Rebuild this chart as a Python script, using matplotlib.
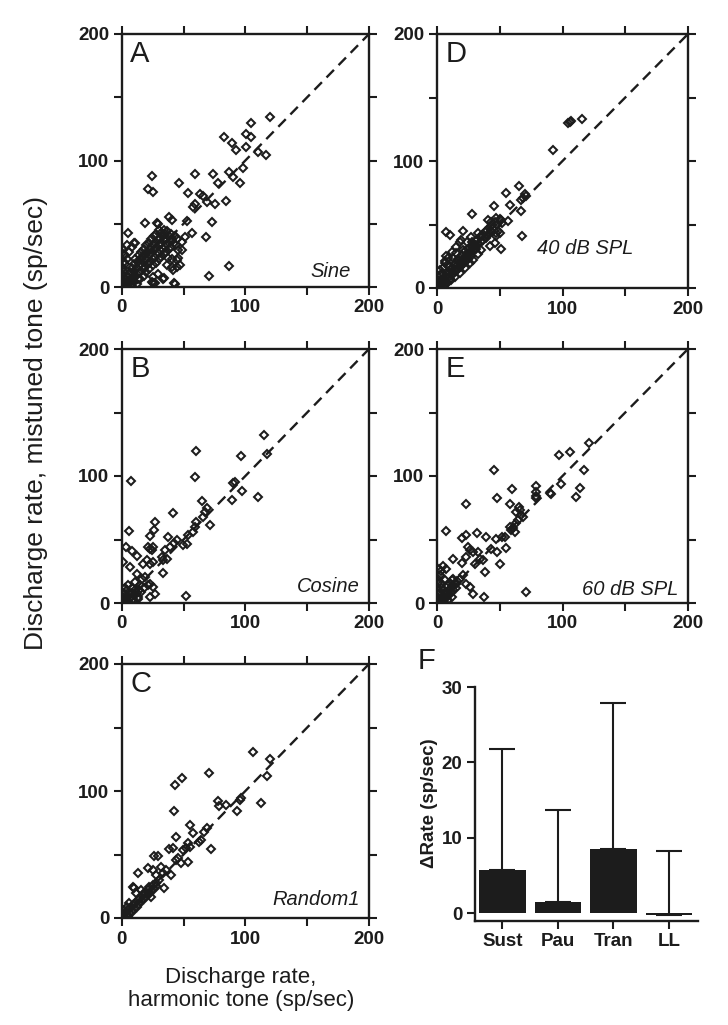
import numpy as np
import matplotlib.pyplot as plt

plt.rcParams['font.family'] = ['Liberation Sans', 'DejaVu Sans']
ink = '#1c1c1c'

# Panel A - Sine (harmonic rate, mistuned rate)
sine_pts = np.array([
    [120.3, 134.6], [104.4, 129.3], [100.9, 120.6], [104.9, 118.7], [82.6, 118.2], [88.8, 114.2],
    [92.1, 108.2], [100.9, 110.8], [110.3, 106.9], [117.1, 104.2], [97.7, 93.7], [86.9, 91.0],
    [89.7, 87.1], [95.8, 82.6], [78.1, 82.3], [59.2, 89.2], [74.0, 89.2], [46.6, 82.3],
    [24.2, 88.1], [21.5, 77.8], [25.6, 75.2], [53.8, 74.4], [63.3, 73.9], [65.9, 72.0],
    [59.2, 66.0], [57.9, 63.3], [68.6, 67.3], [75.4, 65.4], [84.3, 67.8], [52.5, 52.0],
    [73.2, 51.5], [56.5, 43.0], [68.1, 39.6], [38.5, 55.4], [40.4, 52.8], [18.8, 50.9],
    [28.3, 50.9], [29.6, 49.5], [5.4, 43.0], [86.4, 16.6], [70.8, 8.4], [33.6, 6.6],
    [43.1, 2.6], [25.0, 3.4], [40.4, 15.8], [47.1, 17.2], [45.8, 29.0], [48.4, 29.0],
    [10.8, 34.5], [4.0, 33.2], [0.0, 26.6], [45.8, 23.2], [37.7, 22.7], [44.5, 16.0],
    [41.7, 13.4], [34.5, 6.9], [42.5, 2.9], [24.3, 4.2], [26.9, 2.9], [51.1, 39.6],
    [48.4, 35.6], [44.4, 21.1], [36.3, 17.2], [29.6, 10.6], [25.6, 7.9], [40.4, 22.4],
    [0, 0], [1, 2], [2, 1], [2, 4], [3, 6], [4, 3], [5, 8], [5, 2], [6, 10], [6, 5],
    [7, 12], [7, 4], [8, 7], [8, 15], [9, 10], [9, 3], [10, 13], [10, 18], [11, 8], [11, 22],
    [12, 15], [12, 10], [13, 20], [13, 6], [14, 17], [14, 25], [15, 12], [15, 22], [16, 18],
    [16, 28], [17, 14], [17, 24], [18, 20], [18, 30], [19, 16], [19, 26], [20, 22], [20, 33],
    [21, 18], [21, 28], [22, 25], [22, 35], [23, 20], [23, 30], [24, 27], [24, 38], [25, 22],
    [25, 33], [26, 29], [26, 40], [27, 24], [27, 35], [28, 31], [28, 42], [29, 27], [29, 37],
    [30, 33], [30, 45], [31, 29], [31, 39], [32, 35], [32, 43], [33, 30], [33, 40], [34, 37],
    [34, 45], [35, 32], [35, 42], [36, 38], [36, 28], [37, 44], [37, 34], [38, 40], [38, 30],
    [39, 36], [40, 42], [40, 32], [41, 38], [42, 35], [43, 40], [44, 33], [45, 38],
    [5, 0], [8, 1], [10, 5], [12, 2], [15, 6], [18, 9], [20, 12], [22, 14], [25, 17],
    [28, 19], [30, 22], [32, 24], [34, 26], [0, 10], [1, 15], [2, 20], [3, 25], [0, 30],
    [4, 22], [6, 28], [8, 32], [10, 35], [2, 12], [1, 8], [0, 5], [3, 18],
])

# Panel B - Cosine
cosine_pts = np.array([
    [115.2, 132.4], [59.8, 119.7], [96.4, 116.1], [117.9, 117.1], [7.5, 96.3], [59.2, 99.5],
    [91.5, 95.3], [90.2, 94.2], [97.4, 88.2], [110.6, 83.7], [88.8, 81.1], [64.6, 80.5],
    [41.2, 70.5], [68.6, 75.0], [67.3, 71.8], [65.9, 67.9], [71.3, 61.3], [60.0, 63.9],
    [59.2, 60.0], [57.9, 56.1], [53.8, 53.4], [52.5, 46.8], [49.8, 45.5], [26.9, 63.9],
    [26.1, 57.4], [5.9, 56.3], [22.9, 52.9], [37.7, 51.6], [45.0, 50.0], [42.3, 47.4],
    [39.0, 44.2], [35.0, 41.6], [32.3, 36.3], [33.6, 33.7], [36.3, 35.0], [21.5, 44.2],
    [22.9, 42.9], [24.2, 41.6], [25.6, 44.2], [3.5, 44.2], [8.1, 41.1], [12.7, 36.8],
    [17.5, 31.1], [20.2, 33.7], [22.9, 31.1], [25.6, 32.4], [0.8, 32.4], [6.7, 28.4],
    [12.1, 23.2], [16.2, 19.2], [18.8, 20.5], [22.9, 15.3], [25.6, 12.6], [26.9, 7.4],
    [22.9, 4.7], [21.5, 13.9], [52.0, 5.5], [33.1, 23.9], [10.8, 16.6], [13.5, 3.4],
    [0, 0], [1, 1], [2, 3], [3, 1], [4, 5], [5, 2], [6, 7], [7, 4], [8, 8], [9, 3],
    [10, 6], [11, 10], [2, 8], [4, 10], [1, 5], [3, 12], [0, 3], [5, 14], [8, 12], [12, 8],
    [14, 10], [15, 14], [10, 1], [6, 0], [13, 5], [16, 9], [18, 12],
])

# Panel C - Random1
random_pts = np.array([
    [105.8, 131.0], [119.8, 125.5], [70.3, 114.2], [48.7, 110.1], [43.1, 104.9], [117.4, 111.9],
    [112.8, 90.8], [96.4, 94.2], [95.8, 92.9], [77.5, 92.1], [78.3, 88.4], [84.3, 89.0],
    [92.9, 84.5], [42.5, 84.3], [55.2, 73.2], [68.9, 70.6], [66.7, 68.0], [43.9, 64.0],
    [57.3, 66.7], [64.1, 61.4], [62.7, 60.1], [72.1, 54.1], [38.5, 54.1], [41.2, 55.4],
    [26.4, 48.8], [29.1, 48.8], [12.9, 35.7], [53.3, 58.8], [52.0, 54.9], [55.5, 56.2],
    [49.3, 53.5], [43.9, 45.7], [47.9, 43.0], [53.8, 44.4], [45.8, 47.0], [21.0, 39.1],
    [25.0, 37.8], [31.8, 40.4], [33.1, 35.2], [39.8, 33.9], [27.7, 33.9], [35.8, 37.8],
    [30.4, 29.9], [8.9, 24.7], [10.2, 23.4], [11.6, 19.4], [15.6, 22.0], [18.3, 19.4],
    [22.3, 24.7], [27.7, 27.3], [23.7, 16.8], [34.5, 23.4],
    [0, 0], [1, 2], [2, 1], [3, 4], [4, 2], [5, 6], [6, 4], [7, 8], [8, 5], [9, 10],
    [10, 7], [11, 12], [12, 9], [13, 14], [14, 11], [15, 16], [16, 13], [17, 18], [18, 15],
    [19, 20], [20, 17], [21, 22], [22, 19], [24, 21], [25, 26], [26, 23], [28, 25], [2, 6],
    [4, 9], [6, 12], [3, 0], [5, 1], [0, 3],
])

# Panel D - 40 dB SPL
spl40_pts = np.array([
    [104.4, 130.3], [105.7, 131.1], [107.0, 131.6], [115.8, 133.2], [92.4, 108.3], [65.1, 80.7],
    [54.7, 74.7], [69.9, 73.9], [71.2, 72.1], [67.2, 69.5], [68.5, 70.8], [58.1, 65.3],
    [45.2, 64.7], [67.2, 60.8], [27.9, 58.2], [40.6, 53.7], [43.3, 51.9], [47.3, 55.0],
    [51.3, 53.2], [56.6, 52.4], [68.0, 40.6], [51.3, 30.7], [6.9, 44.0], [10.1, 41.9],
    [20.7, 44.6], [32.7, 43.3], [35.3, 40.6], [39.3, 39.3], [31.3, 36.7], [35.3, 30.1],
    [42.0, 32.8], [45.9, 35.4], [49.9, 43.3], [47.3, 40.6], [28.7, 32.8], [26.0, 27.5],
    [23.4, 22.3], [20.7, 30.1], [19.4, 38.0], [15.4, 27.5], [12.7, 23.6], [7.4, 24.9],
    [6.1, 21.0], [10.1, 17.0], [18.1, 17.0],
    [0, 0], [1, 2], [2, 1], [2, 5], [3, 3], [4, 6], [5, 4], [5, 8], [6, 6], [7, 9], [7, 5],
    [8, 11], [9, 8], [10, 12], [10, 7], [11, 14], [12, 10], [12, 16], [13, 12], [14, 15],
    [14, 19], [15, 13], [16, 18], [16, 22], [17, 15], [18, 20], [18, 24], [19, 17], [20, 22],
    [20, 26], [21, 19], [22, 24], [22, 29], [23, 21], [24, 27], [25, 23], [25, 31], [26, 28],
    [27, 25], [28, 32], [28, 36], [29, 30], [30, 34], [31, 31], [32, 38], [33, 35], [34, 40],
    [35, 36], [36, 42], [37, 38], [38, 44], [39, 40], [40, 46], [41, 42], [42, 48], [43, 45],
    [44, 50], [45, 47], [46, 52], [48, 50], [50, 54], [52, 51], [47, 43], [49, 45],
    [2, 14], [3, 10], [5, 16], [6, 20], [8, 18], [4, 12], [9, 24], [12, 28], [15, 32],
    [18, 36], [24, 36], [27, 40], [6, 2], [8, 4], [11, 6], [14, 9], [18, 12], [22, 16],
    [26, 20], [29, 22], [33, 27],
])

# Panel E - 60 dB SPL
spl60_pts = np.array([
    [120.8, 125.8], [106.2, 118.7], [97.2, 116.3], [45.2, 104.7], [117.1, 104.7], [78.9, 92.4],
    [79.2, 87.6], [79.2, 84.5], [78.6, 82.4], [98.5, 93.7], [114.2, 90.8], [111.0, 83.7],
    [89.8, 86.3], [90.6, 85.5], [60.0, 89.7], [47.8, 82.4], [23.4, 78.2], [58.4, 78.2],
    [65.3, 75.8], [63.2, 71.8], [67.2, 69.2], [64.5, 65.3], [68.5, 67.9], [60.6, 58.7],
    [61.9, 56.1], [57.9, 60.0], [53.9, 52.1], [65.9, 73.2], [62.7, 62.6], [59.2, 57.4],
    [7.4, 56.6], [20.2, 51.1], [23.4, 53.7], [31.9, 55.3], [39.3, 51.6], [47.3, 50.3],
    [52.1, 52.1], [48.1, 40.3], [54.7, 43.4], [43.3, 42.6], [49.9, 31.1], [12.7, 35.0],
    [19.9, 31.8], [24.7, 44.2], [26.0, 41.6], [28.7, 40.3], [32.7, 40.3], [34.0, 35.0],
    [36.7, 33.7], [38.0, 24.5], [30.0, 31.1], [23.4, 36.3], [1.3, 27.1], [4.8, 28.9],
    [7.4, 27.1], [70.6, 8.7], [28.7, 6.8], [37.2, 5.0], [18.1, 19.2], [20.7, 21.8],
    [15.4, 15.3], [12.7, 19.2], [23.4, 15.3], [26.0, 12.6],
    [0, 0], [1, 1], [2, 3], [3, 1], [4, 5], [5, 2], [6, 7], [7, 4], [8, 9], [9, 6],
    [10, 11], [11, 8], [12, 13], [13, 10], [14, 15], [15, 12], [16, 17], [2, 8], [3, 12],
    [1, 16], [0, 20], [2, 22], [4, 15], [6, 18], [5, 10], [8, 14], [10, 16], [12, 18],
    [0, 5], [1, 10], [6, 0], [9, 2], [12, 5], [0, 12], [3, 25],
])

# Panel F - change in rate per response type
bar_names = ['Sust', 'Pau', 'Tran', 'LL']
bar_mean = [5.7, 1.5, 8.5, -0.3]
bar_top = [21.8, 13.7, 27.9, 8.2]   # top of error bar

fig = plt.figure(figsize=(7.28, 10.25), dpi=100)


def scatter_panel(rect, pts, letter, cond, cond_xy, cond_ha, data_coords=False):
    ax = fig.add_axes(rect)
    ax.plot([0, 200], [0, 200], ls=(0, (4.5, 2.8)), color=ink, lw=1.7, zorder=1)
    ax.plot(pts[:, 0], pts[:, 1], 'D', ms=4.2, mfc='none', mec=ink, mew=1.45, zorder=2)
    ax.set_xlim(0, 200)
    ax.set_ylim(0, 200)
    ticks = [0, 50, 100, 150, 200]
    labs = ['0', '', '100', '', '200']
    ax.set_xticks(ticks)
    ax.set_yticks(ticks)
    ax.set_xticklabels(labs, fontweight='bold')
    ax.set_yticklabels(labs, fontweight='bold')
    ax.tick_params(direction='out', top=True, right=True, length=6, width=1.5,
                   labelsize=13.5, colors=ink, pad=3)
    for s in ax.spines.values():
        s.set_linewidth(1.7)
        s.set_color(ink)
    ax.text(0.035, 0.975, letter, transform=ax.transAxes, fontsize=21, va='top', ha='left', color=ink)
    tr = ax.transData if data_coords else ax.transAxes
    ax.text(cond_xy[0], cond_xy[1], cond, transform=tr, fontsize=14.5, style='italic',
            ha=cond_ha, va='baseline', color=ink)
    return ax


W, H = 728, 1025
def rect(x0, y0, x1, y1):
    # pixel box -> figure fraction
    return [x0 / W, 1 - y1 / H, (x1 - x0) / W, (y1 - y0) / H]


scatter_panel(rect(121.7, 34, 369, 287), sine_pts, 'A', 'Sine', (0.925, 0.04), 'right')
scatter_panel(rect(121.7, 349, 369, 603), cosine_pts, 'B', 'Cosine', (0.964, 0.043), 'right')
scatter_panel(rect(121.7, 664, 369, 918), random_pts, 'C', 'Random1', (0.964, 0.051), 'right')
scatter_panel(rect(437, 34, 688, 288), spl40_pts, 'D', '40 dB SPL', (80, 27), 'left', data_coords=True)
scatter_panel(rect(437, 349, 688, 603), spl60_pts, 'E', '60 dB SPL', (0.96, 0.031), 'right')

# Panel F bar chart
axf = fig.add_axes(rect(475, 687, 698, 921))
xpos = np.arange(len(bar_names))
err_up = [t - m for t, m in zip(bar_top, bar_mean)]
axf.bar(xpos, bar_mean, width=0.84, color=ink, zorder=2)
axf.errorbar(xpos, bar_mean, yerr=[np.zeros(len(xpos)), err_up], fmt='none',
             ecolor=ink, elinewidth=1.5, capsize=9.5, capthick=1.5, zorder=1)
axf.set_xlim(-0.49, 3.52)
axf.set_ylim(-1.06, 30)
axf.set_yticks([0, 10, 20, 30])
axf.set_yticklabels(['0', '10', '20', '30'], fontweight='bold')
axf.set_xticks(xpos)
axf.set_xticklabels(bar_names, fontweight='bold')
axf.tick_params(direction='out', length=6, width=1.5, labelsize=13.5, colors=ink, pad=3)
axf.spines['top'].set_visible(False)
axf.spines['right'].set_visible(False)
axf.spines['left'].set_bounds(-1.06, 30)
for s in ['left', 'bottom']:
    axf.spines[s].set_linewidth(1.7)
    axf.spines[s].set_color(ink)
fig.text(426 / W, 1 - 661 / H, 'F', fontsize=21, ha='center', va='center', color=ink)
fig.text(430 / W, 1 - 803 / H, '\u0394Rate (sp/sec)', fontsize=13.5, fontweight='bold',
         rotation=90, ha='center', va='center', color=ink)

# shared axis labels
fig.text(36 / W, 1 - 423 / H, 'Discharge rate, mistuned tone (sp/sec)', fontsize=19,
         rotation=90, ha='center', va='center', color=ink)
fig.text(241 / W, 1 - 989 / H, 'Discharge rate,\nharmonic tone (sp/sec)', fontsize=16,
         ha='center', va='center', linespacing=1.15, color=ink)

fig.savefig('out.png', dpi=100)
